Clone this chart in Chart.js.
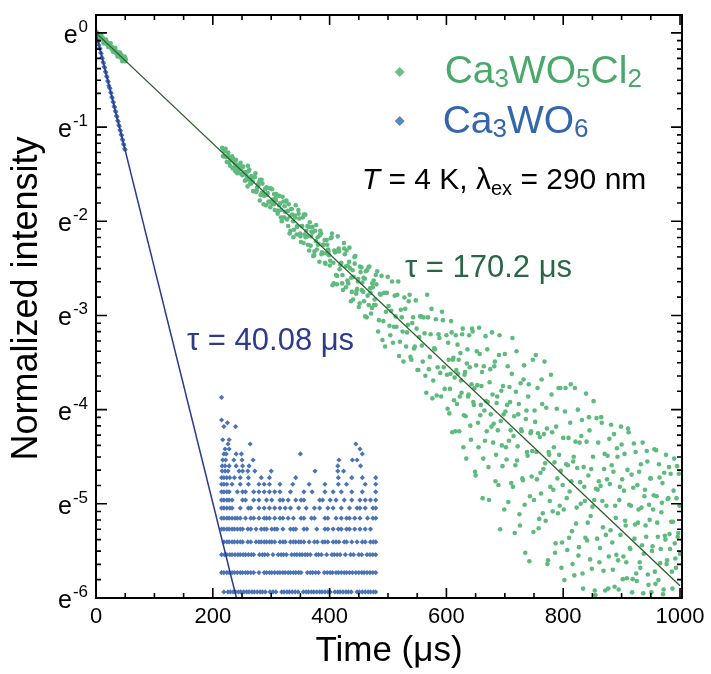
<!DOCTYPE html>
<html>
<head>
<meta charset="utf-8">
<script src="https://cdn.jsdelivr.net/npm/chart.js@4.4.1/dist/chart.umd.min.js"></script>
<style>
html,body{margin:0;padding:0;background:#ffffff;}
canvas{display:block;}
</style>
</head>
<body>
<canvas id="c" width="711" height="674"></canvas>
<script>
// ---------- axis ticks ----------
const xTickValues = [0, 200, 400, 600, 800, 1000];
const xMinorTickValues = [50,100,150,250,300,350,450,500,550,650,700,750,850,900,950];
const yTickExponents = [0, -1, -2, -3, -4, -5, -6];   // labels e^k

// ---------- series names ----------
const seriesNames = ['Ca3WO5Cl2', 'Ca3WO6'];
const tauLabels = ['τ = 170.2 μs', 'τ = 40.08 μs'];

// ---------- Ca3WO5Cl2 data: [time (μs), ln(normalized intensity)] ----------
const greenEarly = [[0,0],[1,0.01],[2,-0.02],[3,-0.03],[4,-0.01],[5,-0.06],[6,-0.05],[7,-0.03],[8,-0.03],[9,-0.02],[10,-0.07],[11,-0.05],[12,-0.06],[13,-0.11],[14,-0.10],[15,-0.09],[16,-0.08],[17,-0.07],[18,-0.12],[19,-0.11],[20,-0.10],[21,-0.15],[22,-0.14],[23,-0.12],[24,-0.13],[25,-0.11],[26,-0.16],[27,-0.17],[28,-0.15],[29,-0.20],[30,-0.19],[31,-0.16],[32,-0.17],[33,-0.16],[34,-0.21],[35,-0.22],[36,-0.20],[37,-0.25],[38,-0.24],[39,-0.21],[40,-0.22],[41,-0.21],[42,-0.26],[43,-0.23],[44,-0.24],[45,-0.30],[46,-0.28],[47,-0.29],[48,-0.27],[49,-0.25],[50,-0.30],[51,-0.28]];
const greenMid = [[216,-1.22],[219,-1.31],[222,-1.23],[225,-1.31],[228,-1.38],[231,-1.33],[234,-1.44],[237,-1.38],[240,-1.35],[243,-1.44],[246,-1.49],[249,-1.44],[252,-1.42],[255,-1.57],[258,-1.52],[261,-1.47],[264,-1.60],[267,-1.54],[270,-1.68],[273,-1.49],[276,-1.64],[279,-1.59],[282,-1.72],[285,-1.60],[288,-1.73],[291,-1.83],[294,-1.70],[297,-1.65],[300,-1.79],[303,-1.77],[306,-1.88],[309,-1.71],[312,-1.89],[315,-1.81],[318,-2.00],[321,-1.79],[324,-1.90],[327,-1.98],[330,-1.82],[333,-2.10],[336,-1.93],[339,-2.09],[342,-1.83],[345,-2.05],[348,-1.97],[351,-2.22],[354,-1.96],[357,-2.14],[360,-2.10],[363,-2.25],[366,-2.01],[369,-2.11],[372,-2.37],[375,-2.10],[378,-2.30],[381,-2.24],[384,-2.10],[387,-2.33],[390,-2.25],[393,-2.45],[396,-2.25],[399,-2.36],[402,-2.18],[405,-2.68],[408,-2.31],[411,-2.57],[414,-2.16],[417,-2.51],[420,-2.44],[423,-2.73],[426,-2.35],[429,-2.31],[432,-2.66],[435,-2.50],[438,-2.75],[441,-2.59],[444,-2.37],[447,-2.72],[450,-2.91],[453,-2.54],[456,-2.65],[459,-2.85],[462,-2.53],[465,-2.79],[468,-2.48],[471,-2.98],[474,-2.70],[477,-2.83],[480,-2.67],[483,-3.17],[486,-2.77],[489,-2.58],[492,-3.06],[495,-3.33],[498,-2.76],[501,-2.90],[504,-3.21],[507,-2.64],[510,-3.12],[513,-3.01],[516,-2.78],[519,-3.43],[522,-2.94],[525,-3.17],[528,-2.81],[531,-3.33],[534,-3.10],[537,-2.78],[540,-3.47],[543,-3.02],[546,-3.33],[549,-3.14],[552,-3.58],[555,-3.01],[558,-3.32],[561,-3.02],[564,-3.64],[567,-2.78],[570,-3.57],[573,-3.20],[576,-3.88],[579,-3.35],[582,-3.04],[585,-3.55],[588,-3.24],[591,-3.86],[594,-3.05],[597,-3.78]];
const greenMid2 = [[217.5,-1.31],[220.5,-1.26],[223.5,-1.32],[226.5,-1.27],[229.5,-1.41],[232.5,-1.35],[235.5,-1.34],[238.5,-1.47],[241.5,-1.40],[244.5,-1.45],[247.5,-1.38],[250.5,-1.51],[253.5,-1.48],[256.5,-1.48],[259.5,-1.63],[262.5,-1.45],[265.5,-1.60],[268.5,-1.58],[271.5,-1.53],[274.5,-1.69],[277.5,-1.61],[280.5,-1.78],[283.5,-1.56],[286.5,-1.70],[289.5,-1.66],[292.5,-1.64],[295.5,-1.79],[298.5,-1.85],[301.5,-1.66],[304.5,-1.82],[307.5,-1.75],[310.5,-1.89],[313.5,-1.83],[316.5,-1.96],[319.5,-1.74],[322.5,-1.96],[325.5,-1.79],[328.5,-1.89],[331.5,-2.13],[334.5,-1.87],[337.5,-2.00],[340.5,-1.94],[343.5,-2.14],[346.5,-1.88],[349.5,-2.13],[352.5,-2.05],[355.5,-2.23],[358.5,-1.93],[361.5,-2.16],[364.5,-2.06],[367.5,-2.26],[370.5,-2.06],[373.5,-2.36],[376.5,-2.21],[379.5,-2.17],[382.5,-2.43],[385.5,-2.13],[388.5,-2.34],[391.5,-2.20],[394.5,-2.34],[397.5,-2.30]];
const greenMid3 = [[400.5,-2.47],[403.5,-2.17],[406.5,-2.44],[409.5,-2.33],[412.5,-2.67],[415.5,-2.29],[418.5,-2.46],[421.5,-2.66],[424.5,-2.23],[427.5,-2.48],[430.5,-2.63],[433.5,-2.43],[436.5,-2.85],[439.5,-2.52],[442.5,-2.38],[445.5,-2.77],[448.5,-2.64],[451.5,-2.87],[454.5,-2.49],[457.5,-2.75],[460.5,-2.61],[463.5,-3.02],[466.5,-2.49],[469.5,-2.71],[472.5,-2.92],[475.5,-2.63],[478.5,-2.89],[481.5,-2.53],[484.5,-3.05],[487.5,-2.78],[490.5,-3.26],[493.5,-2.76],[496.5,-2.96],[499.5,-2.59],[502.5,-3.11],[505.5,-2.95],[508.5,-3.29],[511.5,-2.79],[514.5,-3.12],[517.5,-2.64],[520.5,-3.28],[523.5,-3.02],[526.5,-3.49],[529.5,-2.93],[532.5,-3.18],[535.5,-2.85],[538.5,-3.44],[541.5,-3.08],[544.5,-3.35],[547.5,-2.84],[550.5,-3.58],[553.5,-3.23],[556.5,-3.01],[559.5,-3.49],[562.5,-3.19],[565.5,-3.82],[568.5,-3.02],[571.5,-3.44],[574.5,-2.93],[577.5,-3.69],[580.5,-3.36],[583.5,-3.85],[586.5,-3.20],[589.5,-3.61],[592.5,-2.96],[595.5,-3.55]];
const greenMid4 = [[218,-1.24],[221,-1.31],[224,-1.37],[227,-1.31],[230,-1.35],[233,-1.31],[236,-1.43],[239,-1.40],[242,-1.49],[245,-1.41],[248,-1.41],[251,-1.50],[254,-1.48],[257,-1.56],[260,-1.41],[263,-1.56],[266,-1.52],[269,-1.68],[272,-1.53],[275,-1.67],[278,-1.62],[281,-1.56],[284,-1.70],[287,-1.82],[290,-1.65],[293,-1.72],[296,-1.80],[299,-1.65],[302,-1.81],[305,-1.71],[308,-1.78],[311,-1.92],[314,-1.73],[317,-1.88],[320,-1.96],[323,-1.84],[326,-1.78],[329,-2.05],[332,-1.95],[335,-1.87],[338,-2.17],[341,-1.96],[344,-2.06],[347,-1.92],[350,-2.16],[353,-2.05],[356,-1.93],[359,-2.17],[362,-2.05],[365,-2.31],[368,-2.16],[371,-2.12],[374,-2.32],[377,-2.04],[380,-2.25],[383,-2.15],[386,-2.35],[389,-2.25],[392,-2.44],[395,-2.20],[398,-2.32],[401,-2.42],[404,-2.13],[407,-2.66],[410,-2.32],[413,-2.58],[416,-2.32],[419,-2.46],[422,-2.57],[425,-2.29],[428,-2.70],[431,-2.47],[434,-2.28],[437,-2.60],[440,-2.83],[443,-2.45],[446,-2.74],[449,-2.61],[452,-2.48],[455,-2.73],[458,-2.60],[461,-3.01],[464,-2.52],[467,-2.89],[470,-2.76],[473,-2.66],[476,-2.89],[479,-2.57]];
const greenLate = [[600,-3.21],[602,-3.99],[604,-3.47],[606,-3.78],[608,-3.06],[610,-4.24],[612,-3.45],[614,-3.66],[616,-3.21],[618,-3.94],
[620,-3.62],[622,-4.23],[624,-3.40],[626,-3.82],[628,-3.14],[630,-4.06],[632,-3.60],[634,-4.52],[636,-3.36],[638,-3.84],
[640,-3.55],[642,-4.32],[644,-3.14],[646,-3.92],[648,-3.77],[650,-4.70],[652,-3.38],[654,-4.14],[656,-3.13],[658,-4.06],
[660,-3.75],[662,-4.94],[664,-3.54],[666,-4.33],[668,-3.91],[670,-3.36],[672,-4.61],[674,-3.71],[676,-4.05],[678,-3.18],
[680,-4.35],[682,-3.54],[684,-4.76],[686,-3.93],[688,-4.22],[690,-3.42],[692,-5.27],[694,-3.80],[696,-4.60],[698,-4.05],
[700,-3.41],[702,-4.40],[704,-3.95],[706,-4.98],[708,-3.76],[710,-4.22],[712,-3.62],[714,-4.82],[716,-4.07],[718,-4.59],
[720,-3.38],[722,-4.39],[724,-3.94],[726,-5.23],[728,-4.21],[730,-4.73],[732,-3.68],[734,-5.01],[736,-4.10],[738,-4.45],
[740,-3.86],[742,-5.61],[744,-4.25],[746,-4.71],[748,-3.47],[750,-4.96],[752,-4.13],[754,-4.45],[756,-3.77],[758,-5.26],
[760,-4.29],[762,-4.89],[764,-3.94],[766,-4.63],[768,-3.49],[770,-5.18],[772,-4.20],[774,-5.60],[776,-4.48],[778,-4.82],
[780,-3.84],[782,-5.08],[784,-4.40],[786,-5.52],[788,-4.18],[790,-4.73],[792,-3.77],[794,-5.02],[796,-4.65],[798,-5.41],
[800,-4.30],[802,-5.81],[804,-3.77],[806,-4.94],[808,-4.59],[810,-5.36],[812,-4.14],[814,-4.76],[816,-5.64],[818,-4.50],
[820,-3.77],[822,-5.21],[824,-4.62],[826,-5.55],[828,-4.35],[830,-5.00],[832,-4.11],[834,-5.90],[836,-4.82],[838,-5.36],
[840,-4.34],[842,-5.20],[844,-4.08],[846,-5.59],[848,-4.63],[850,-5.03],[852,-3.91],[854,-5.92],[856,-4.84],[858,-5.37],
[860,-4.35],[862,-5.62],[864,-4.81],[866,-4.14],[868,-5.25],[870,-4.63],[872,-5.92],[874,-5.02],[876,-4.49],[878,-5.56],
[880,-4.79],[882,-4.16],[884,-5.41],[886,-4.66],[888,-5.88],[890,-5.15],[892,-4.41],[894,-5.60],[896,-4.96],[898,-5.33],
[900,-4.37],[902,-5.80],[904,-4.86],[906,-5.18],[908,-5.62],[910,-4.64],[912,-4.24],[914,-5.47],[916,-5.02],[918,-5.94],
[920,-4.83],[922,-5.37],[924,-4.45],[926,-5.82],[928,-5.20],[930,-4.66],[932,-5.68],[934,-5.04],[936,-4.35],[938,-5.53],
[940,-4.85],[942,-5.35],[944,-4.55],[946,-5.86],[948,-5.17],[950,-4.73],[952,-5.50],[954,-5.06],[956,-4.42],[958,-5.85],
[960,-4.92],[962,-5.35],[964,-4.58],[966,-5.63],[968,-5.09],[970,-4.78],[972,-5.91],[974,-5.34],[976,-4.48],[978,-5.60],
[980,-4.94],[982,-5.32],[984,-4.68],[986,-5.72],[988,-5.19],[990,-4.52],[992,-5.58],[994,-4.94],[996,-5.35],[998,-4.68],[1000,-5.53]];
const greenLate2 = [[601,-3.63],[603,-3.29],[605,-4.04],[607,-3.62],[609,-3.18],[611,-3.47],[613,-3.90],[615,-4.23],[617,-3.58],[619,-3.31],
[621,-3.47],[623,-3.86],[625,-3.69],[627,-3.20],[629,-4.40],[631,-3.63],[633,-4.07],[635,-3.51],[637,-3.86],[639,-3.21],
[641,-4.17],[643,-3.73],[645,-3.17],[647,-3.95],[649,-4.66],[651,-3.53],[653,-3.74],[655,-4.40],[657,-3.41],[659,-3.95],
[661,-3.60],[663,-4.52],[665,-4.01],[667,-3.22],[669,-4.23],[671,-3.92],[673,-4.96],[675,-3.57],[677,-4.18],[679,-3.84],
[681,-4.15],[683,-3.49],[685,-4.48],[687,-3.86],[689,-4.80],[691,-3.21],[693,-4.12],[695,-4.38],[697,-3.75],[699,-5.06],
[701,-4.02],[703,-4.53],[705,-3.54],[707,-4.33],[709,-3.92],[711,-4.78],[713,-3.24],[715,-4.28],[717,-5.31],[719,-3.81],
[721,-4.54],[723,-4.05],[725,-5.11],[727,-3.72],[729,-4.23],[731,-4.75],[733,-3.53],[735,-5.52],[737,-4.01],[739,-4.49],
[741,-3.73],[743,-4.92],[745,-4.23],[747,-4.44],[749,-5.30],[751,-4.01],[753,-3.42],[755,-4.74],[757,-4.25],[759,-5.16],
[761,-4.67],[763,-3.68],[765,-5.10],[767,-4.26],[769,-4.57],[771,-3.98],[773,-5.64],[775,-4.45],[777,-4.97],[779,-3.63],
[781,-4.24],[783,-4.85],[785,-4.56],[787,-5.42],[789,-3.99],[791,-5.10],[793,-4.48],[795,-3.77],[797,-5.68],[799,-4.80],
[801,-5.06],[803,-4.02],[805,-4.58],[807,-5.49],[809,-4.30],[811,-4.87],[813,-3.73],[815,-5.29],[817,-4.55],[819,-5.76],
[821,-4.34],[823,-5.04],[825,-4.00],[827,-5.46],[829,-4.77],[831,-4.28],[833,-5.74],[835,-4.61],[837,-4.97],[839,-3.83],
[841,-5.39],[843,-4.70],[845,-4.22],[847,-5.13],[849,-5.69],[851,-4.50],[853,-4.96],[855,-5.97],[857,-4.09],[859,-4.85],
[861,-4.76],[863,-5.47],[865,-4.08],[867,-4.97],[869,-5.71],[871,-4.47],[873,-5.33],[875,-4.74],[877,-5.90],[879,-4.31],
[881,-5.28],[883,-4.59],[885,-5.70],[887,-4.26],[889,-5.02],[891,-5.54],[893,-4.50],[895,-5.91],[897,-4.82],[899,-4.18],
[901,-4.74],[903,-5.56],[905,-4.47],[907,-5.23],[909,-5.79],[911,-4.20],[913,-5.01],[915,-5.48],[917,-4.69],[919,-5.80],
[921,-4.36],[923,-5.22],[925,-5.74],[927,-4.80],[929,-5.06],[931,-5.62],[933,-4.58],[935,-5.44],[937,-5.95],[939,-4.92],
[941,-5.23],[943,-4.44],[945,-5.75],[947,-5.01],[949,-4.73],[951,-5.94],[953,-5.45],[955,-4.91],[957,-5.72],[959,-4.43],
[961,-5.20],[963,-5.81],[965,-4.72],[967,-5.48],[969,-4.99],[971,-5.96],[973,-4.67],[975,-5.38],[977,-5.64],[979,-4.95],
[981,-4.61],[983,-5.48],[985,-5.19],[987,-5.90],[989,-4.86],[991,-5.42],[993,-5.68],[995,-4.60],[997,-5.31],[999,-5.02]];

// ---------- Ca3WO6 data ----------
const blueEarly = [[0,0],[1,-0.04],[2,-0.04],[3,-0.09],[4,-0.09],[5,-0.13],[6,-0.16],[7,-0.17],[8,-0.21],[9,-0.22],[10,-0.26],[11,-0.27],[12,-0.31],[13,-0.32],[14,-0.36],[15,-0.37],[16,-0.41],[17,-0.42],[18,-0.46],[19,-0.47],[20,-0.51],[21,-0.52],[22,-0.56],[23,-0.58],[24,-0.59],[25,-0.63],[26,-0.64],[27,-0.68],[28,-0.69],[29,-0.73],[30,-0.74],[31,-0.78],[32,-0.79],[33,-0.83],[34,-0.84],[35,-0.88],[36,-0.89],[37,-0.93],[38,-0.94],[39,-0.98],[40,-0.99],[41,-1.03],[42,-1.04],[43,-1.08],[44,-1.09],[45,-1.13],[46,-1.14],[47,-1.18],[48,-1.19],[49,-1.23],[50,-1.24]];
// noise-floor rows: ln level and the times (μs) at which points sit on that level
const blueFloorLn = [-5.935,-5.73,-5.54,-5.405,-5.268,-5.152,-5.045,-4.96,-4.873,-4.792,-4.722,-4.652,-4.598,-4.535,-4.47,-4.418,-4.365,-4.32,-4.18,-4.14,-4.11,-3.87];
const blueFloorT = [
 [219,226,230,235,239,244,248,253,258,262,267,271,276,281,285,290,298,303,308,318,322,327,331,336,341,346,355,360,364,369,373,378,383,387,392,397,401,409,414,418,423,428,432,437,447,451,456,461,466,470,475,479],
 [215,219,224,228,233,237,242,247,251,256,260,265,270,279,288,292,297,301,306,311,315,320,324,329,333,338,342,347,351,362,367,371,376,381,391,396,401,405,411,415,420,425,429,434,439,445,450,455,459,464,469,474,479],
 [215,220,224,229,233,238,243,247,252,256,261,266,270,280,285,289,294,303,312,317,321,326,335,340,344,349,353,358,362,367,377,381,386,395,404,408,413,418,427,436,441,450,455,464,469,474,479],
 [219,224,228,233,237,242,247,251,260,265,274,279,283,288,292,297,301,306,315,320,324,333,338,342,347,351,356,365,374,379,388,392,397,406,411,416,425,429,438,447,456,461,470,475,479],
 [215,219,224,228,233,237,242,247,251,260,265,274,283,288,292,301,306,310,320,333,338,342,356,361,378,392,397,406,415,420,429,434,443,452,461,470],
 [215,219,224,228,233,238,242,247,256,265,270,279,288,292,297,306,315,320,329,338,351,356,369,374,392,397,411,420,429,434,443,452,465,474,479],
 [215,219,224,229,233,247,261,265,279,288,297,306,315,324,333,347,360,374,383,397,406,420,434,447,452,461,474,479],
 [215,219,224,228,233,251,256,270,279,292,301,315,320,329,342,351,356,383,388,401,411,425,438,452,461,470,479],
 [215,219,224,228,242,251,256,270,279,288,297,306,315,333,356,370,392,406,420,438,456,479],
 [215,219,224,233,247,261,279,288,297,315,337,365,392,415,429,461,479],
 [215,219,224,229,237,247,261,283,297,342,415,438,456,479],
 [216,221,226,245,251,260,272,300,375,414,424],
 [216,221,228,240,251,262,414,453],
 [217,222,236,250,269,416,439,447],
 [219,223,240,249,350,456],
 [221,228,452],
 [226,264,445],
 [217,228],
 [219,239],
 [225],
 [215],
 [215]
];

// ---------- fitted lines (end points) ----------
const greenFit = [[0, 0], [1000, -5.87]];
const blueFit = [[0, 0], [240.5, -6.0]];

// ---------- build datasets ----------
const toPt = p => ({x: p[0], y: Math.exp(p[1])});
const greenPts = [...greenEarly, ...greenMid, ...greenMid2, ...greenMid3, ...greenMid4, ...greenLate, ...greenLate2].map(toPt);
const bluePts = blueEarly.map(toPt);
blueFloorT.forEach((row, r) => row.forEach(t => bluePts.push({x: t, y: Math.exp(blueFloorLn[r])})));

const FONT = "'Liberation Sans', Arial, Helvetica, sans-serif";
Chart.defaults.font.family = FONT;

const colors = {
  greenPt: '#5fba7e', bluePt: '#4a74b6',
  greenFit: '#2e5c2c', blueFit: '#2b3991',
  greenText: '#4aa86b', blueText: '#3566ad',
  greenTau: '#2a6546', blueTau: '#2e3a8e'
};

function drawParts(ctx, parts, x, y, big, small, dy, color) {
  ctx.fillStyle = color;
  ctx.textAlign = 'left';
  ctx.textBaseline = 'alphabetic';
  let cx = x;
  parts.forEach(([txt, kind]) => {
    if (kind === 'sub') { ctx.font = small + 'px ' + FONT; ctx.fillText(txt, cx, y + dy); }
    else if (kind === 'it') { ctx.font = 'italic ' + big + 'px ' + FONT; ctx.fillText(txt, cx, y); }
    else { ctx.font = big + 'px ' + FONT; ctx.fillText(txt, cx, y); }
    cx += ctx.measureText(txt).width;
  });
}

const decor = {
  id: 'decor',
  afterDraw(chart) {
    const {ctx, chartArea: a, scales} = chart;
    const xs = scales.x, ys = scales.y;
    ctx.save();
    // inward ticks
    ctx.strokeStyle = '#000';
    ctx.lineWidth = 1.6;
    ctx.beginPath();
    const xt = (v, len) => {
      const px = xs.getPixelForValue(v);
      ctx.moveTo(px, a.bottom); ctx.lineTo(px, a.bottom - len);
      ctx.moveTo(px, a.top); ctx.lineTo(px, a.top + len);
    };
    xTickValues.forEach(v => xt(v, 10));
    xMinorTickValues.forEach(v => xt(v, 5));
    const yt = (v, len) => {
      const py = ys.getPixelForValue(v);
      ctx.moveTo(a.left, py); ctx.lineTo(a.left + len, py);
      ctx.moveTo(a.right, py); ctx.lineTo(a.right - len, py);
    };
    yTickExponents.forEach(k => {
      yt(Math.exp(k), 11);
      if (k < 0) {
        const lo = Math.exp(k), hi = Math.exp(k + 1);
        for (let j = 1; j < 8; j++) yt(lo + j * (hi - lo) / 8, 5);
      }
    });
    ctx.stroke();
    // frame
    ctx.lineWidth = 2;
    ctx.strokeRect(a.left, a.top, a.right - a.left, a.bottom - a.top);

    // y tick labels e^k
    ctx.fillStyle = '#000';
    yTickExponents.forEach(k => {
      const py = ys.getPixelForValue(Math.exp(k));
      const sup = k === 0 ? '0' : '-' + (-k);
      ctx.textBaseline = 'alphabetic';
      ctx.textAlign = 'right';
      ctx.font = '17px ' + FONT;
      const supW = ctx.measureText(sup).width;
      const right = a.left - 8;
      ctx.fillText(sup, right, py - 1);
      ctx.font = '25px ' + FONT;
      ctx.fillText('e', right - supW - 1, py + 10);
    });

    // y title
    ctx.save();
    ctx.translate(37, (a.top + a.bottom) / 2 - 8);
    ctx.rotate(-Math.PI / 2);
    ctx.textAlign = 'center';
    ctx.textBaseline = 'alphabetic';
    ctx.font = '36px ' + FONT;
    ctx.fillStyle = '#000';
    ctx.fillText('Normalized intensity', 0, 0);
    ctx.restore();

    // legend
    const lx = xs.getPixelForValue(520);
    const diamond = (cx, cy, col) => {
      ctx.fillStyle = col;
      ctx.beginPath();
      ctx.moveTo(cx, cy - 5); ctx.lineTo(cx + 5, cy); ctx.lineTo(cx, cy + 5); ctx.lineTo(cx - 5, cy);
      ctx.closePath(); ctx.fill();
    };
    diamond(lx, ys.getPixelForValue(Math.exp(-0.415)), '#6cbf89');
    diamond(lx, ys.getPixelForValue(Math.exp(-0.935)), '#5b86c3');
    const tx = xs.getPixelForValue(597);
    drawParts(ctx, [['Ca'],['3','sub'],['WO'],['5','sub'],['Cl'],['2','sub']], tx,
      ys.getPixelForValue(Math.exp(-0.532)), 39, 26, 4, colors.greenText);
    drawParts(ctx, [['Ca'],['3','sub'],['WO'],['6','sub']], tx - 2,
      ys.getPixelForValue(Math.exp(-1.063)), 39, 26, 4, colors.blueText);

    // conditions
    drawParts(ctx, [['T','it'],[' = 4 K, λ'],['ex','sub'],[' = 290 nm']],
      xs.getPixelForValue(455), ys.getPixelForValue(Math.exp(-1.657)), 30, 20, 6, '#000');

    // lifetimes
    drawParts(ctx, [[tauLabels[0]]], xs.getPixelForValue(529), ys.getPixelForValue(Math.exp(-2.592)), 31, 20, 0, colors.greenTau);
    drawParts(ctx, [[tauLabels[1]]], xs.getPixelForValue(155.8), ys.getPixelForValue(Math.exp(-3.367)), 31, 20, 0, colors.blueTau);
    ctx.restore();
  }
};

new Chart(document.getElementById('c'), {
  type: 'scatter',
  data: {
    datasets: [
      {type: 'line', label: 'fit ' + seriesNames[0], data: greenFit.map(toPt), borderColor: colors.greenFit,
       borderWidth: 1.3, pointRadius: 0, fill: false, tension: 0, order: 0},
      {type: 'line', label: 'fit ' + seriesNames[1], data: blueFit.map(toPt), borderColor: colors.blueFit,
       borderWidth: 1.5, pointRadius: 0, fill: false, tension: 0, order: 0},
      {label: seriesNames[0], data: greenPts, backgroundColor: colors.greenPt, borderWidth: 0,
       pointRadius: 2.3, pointStyle: 'circle', order: 1},
      {label: seriesNames[1], data: bluePts, backgroundColor: colors.bluePt, borderWidth: 0,
       pointRadius: 2.6, pointStyle: 'rectRot', order: 1}
    ]
  },
  options: {
    responsive: false,
    animation: false,
    events: [],
    layout: {padding: {left: 0, right: 29, top: 15, bottom: 0}},
    plugins: {legend: {display: false}, tooltip: {enabled: false}},
    scales: {
      x: {
        type: 'linear', position: 'bottom', min: 0, max: 1003.4,
        afterBuildTicks: s => { s.ticks = xTickValues.map(v => ({value: v})); },
        ticks: {color: '#000', font: {size: 22}, padding: 6, maxRotation: 0, autoSkip: false,
                callback: v => String(v)},
        grid: {display: false, drawTicks: false},
        border: {display: false},
        title: {display: true, text: 'Time (μs)', color: '#000', font: {size: 35}, padding: {top: 0, bottom: 2}},
        afterFit: s => { s.height = 76; }
      },
      y: {
        type: 'logarithmic', position: 'left', min: Math.exp(-6), max: Math.exp(0.19),
        afterBuildTicks: s => { s.ticks = yTickExponents.map(k => ({value: Math.exp(k)})); },
        ticks: {display: false},
        grid: {display: false, drawTicks: false},
        border: {display: false},
        afterFit: s => { s.width = 96; }
      }
    }
  },
  plugins: [decor]
});
</script>
</body>
</html>
